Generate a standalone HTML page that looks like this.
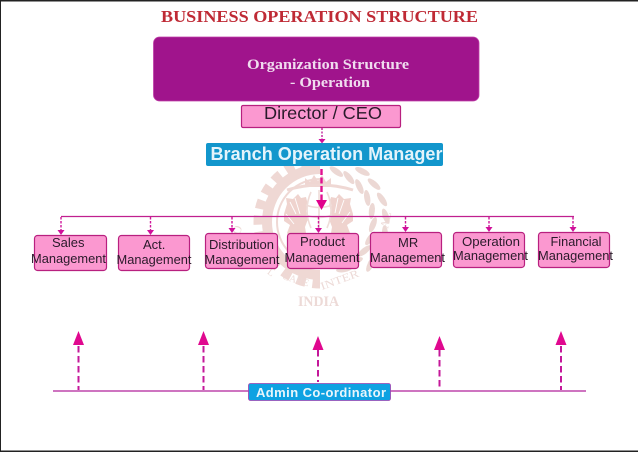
<!DOCTYPE html>
<html><head><meta charset="utf-8"><style>
html,body{margin:0;padding:0;background:#fff}
svg{display:block}
.s{font-family:"Liberation Sans",sans-serif}
.f{font-family:"Liberation Serif",serif;font-weight:bold}
.b{fill:#fb98d0;stroke:#b8207f;stroke-width:1.2}
.l{font-family:"Liberation Sans",sans-serif;font-size:13px;fill:#2a1a2a}
.wt{font-family:"Liberation Serif",serif;fill:#eddad7}
</style></head><body>
<svg width="638" height="452" viewBox="0 0 638 452" xmlns="http://www.w3.org/2000/svg">
<defs>
<clipPath id="lc"><path d="M240 150H320V300H240z"/></clipPath>
</defs>
<rect width="638" height="452" fill="#fff"/>
<rect x="0" y="0" width="638" height="1.5" fill="#222"/>
<rect x="0" y="0" width="1" height="452" fill="#222"/>
<rect x="0" y="450.5" width="638" height="1.5" fill="#222"/>

<!-- watermark -->
<g clip-path="url(#lc)" fill="none" stroke="#efd8d4">
<circle cx="320" cy="222" r="62" stroke-width="9" stroke-dasharray="9 7"/>
<circle cx="320" cy="222" r="53" stroke-width="10"/>
<circle cx="320" cy="222" r="43" stroke-width="2"/>
</g>
<g transform="translate(320 222)" fill="#ecd8d4">
<ellipse rx="3" ry="8" transform="rotate(-72) translate(53 0) rotate(18)"/>
<ellipse rx="3" ry="8" transform="rotate(-57) translate(53 0) rotate(18)"/>
<ellipse rx="3" ry="8" transform="rotate(-42) translate(53 0) rotate(18)"/>
<ellipse rx="3" ry="8" transform="rotate(-27) translate(53 0) rotate(18)"/>
<ellipse rx="3" ry="8" transform="rotate(-12) translate(53 0) rotate(18)"/>
<ellipse rx="3" ry="8" transform="rotate(3) translate(53 0) rotate(18)"/>
<ellipse rx="3" ry="8" transform="rotate(18) translate(53 0) rotate(18)"/>
<ellipse rx="3" ry="8" transform="rotate(33) translate(53 0) rotate(18)"/>
<ellipse rx="3" ry="8" transform="rotate(48) translate(53 0) rotate(18)"/>
<ellipse rx="3" ry="8" transform="rotate(63) translate(53 0) rotate(18)"/>
<ellipse rx="3" ry="8" transform="rotate(-65) translate(66 0) rotate(-14)"/>
<ellipse rx="3" ry="8" transform="rotate(-50) translate(66 0) rotate(-14)"/>
<ellipse rx="3" ry="8" transform="rotate(-35) translate(66 0) rotate(-14)"/>
<ellipse rx="3" ry="8" transform="rotate(-20) translate(66 0) rotate(-14)"/>
<ellipse rx="3" ry="8" transform="rotate(-5) translate(66 0) rotate(-14)"/>
<ellipse rx="3" ry="8" transform="rotate(10) translate(66 0) rotate(-14)"/>
<ellipse rx="3" ry="8" transform="rotate(25) translate(66 0) rotate(-14)"/>
<ellipse rx="3" ry="8" transform="rotate(40) translate(66 0) rotate(-14)"/>
</g>
<path d="M305 178l5 4 4-7 4 6 4-6 4 7 5-4v9h-26z" fill="#efd6d2"/>
<path d="M287 190q33-10 66 0" fill="none" stroke="#efd8d4" stroke-width="3"/>
<path d="M284 214l3-10-1-6 7 1 5-5 3 4 5-1 2 8-2 6 2 8-3 8 2 12-15 4-5-10 3-8-6-4z" fill="#efd3ce"/>
<path d="M353 214l-3-10 1-6-7 1-5-5-3 4-5-1-2 8 2 6-2 8 3 8-2 12 15 4 5-10-3-8 6-4z" fill="#efd3ce"/>
<g fill="none" stroke="#fff" stroke-width="0.9">
<path d="M290 202l6 12M295 198l5 16M286 214l8 10M338 198l-3 15M344 200l-5 14M350 212l-8 11"/>
</g>
<path d="M319 190v40M306 205q13 5 26 0M306 215q13 5 26 0M311 192q-8 18 0 36M327 192q8 18 0 36" fill="none" stroke="#efdcd8" stroke-width="1.6"/>
<path d="M302 240q18 18 36 0l2 18q-20 18-40 0z" fill="#f2dfdb"/>
<text class="wt" x="240" y="228" font-size="12" transform="rotate(-70 245 232)">O</text>
<text class="wt" x="268" y="275" font-size="10" transform="rotate(35 270 272)">L</text>
<text class="wt" x="282" y="279" font-size="10" transform="rotate(16 282 279)" textLength="27" lengthAdjust="spacingAndGlyphs">CARE</text>
<text class="wt" x="322" y="290" font-size="11" transform="rotate(-20 322 290)" textLength="40" lengthAdjust="spacingAndGlyphs">INTER</text>
<text class="wt" x="372" y="268" font-size="11" transform="rotate(-38 372 268)">N</text>
<text class="wt" x="388" y="229" font-size="12" letter-spacing="0.5" transform="rotate(-78 388 229)">AL</text>
<text class="wt" x="298" y="306" font-size="14.500" font-weight="bold" textLength="41" lengthAdjust="spacingAndGlyphs">INDIA</text>

<!-- title -->
<text class="f" x="161" y="22" font-size="17" fill="#bf2a35" textLength="317" lengthAdjust="spacingAndGlyphs">BUSINESS OPERATION STRUCTURE</text>

<!-- purple -->
<rect x="153.500" y="37" width="325.500" height="64" rx="6" fill="#a0148c" stroke="#c040a8" stroke-width="0.800"/>
<text class="f" x="247" y="69" font-size="15" fill="#f0dcef" textLength="162" lengthAdjust="spacingAndGlyphs">Organization Structure</text>
<text class="f" x="290" y="87" font-size="15" fill="#f0dcef" textLength="80" lengthAdjust="spacingAndGlyphs">- Operation</text>

<!-- director -->
<rect x="241.500" y="105.500" width="159" height="22" rx="1.500" class="b"/>
<text class="s" x="264" y="119" font-size="17.500" fill="#2a1a2a" textLength="118" lengthAdjust="spacingAndGlyphs">Director / CEO</text>

<!-- arrow director to branch -->
<line x1="322" y1="128" x2="322" y2="140" stroke="#c0209a" stroke-width="1.400" stroke-dasharray="2 1.500"/>
<path d="M318.500 139h7l-3.500 4.500z" fill="#d0109a"/>

<!-- branch -->
<rect x="206" y="143" width="237" height="23" rx="2" fill="#1296cc"/>
<text class="s" x="210.500" y="160" font-size="18" font-weight="bold" fill="#e4f4fb" textLength="232" lengthAdjust="spacingAndGlyphs">Branch Operation Manager</text>

<!-- thick arrow -->
<line x1="321.500" y1="169" x2="321.500" y2="200" stroke="#e0108f" stroke-width="2.400" stroke-dasharray="6 2.500"/>
<path d="M316 200h11l-5.500 10z" fill="#e0008c"/>

<!-- h line -->
<line x1="61" y1="216.500" x2="574" y2="216.500" stroke="#c0208f" stroke-width="1.200"/>

<g stroke="#d0189a" stroke-width="1.400" stroke-dasharray="2.500 1.500">
<line x1="61" y1="217" x2="61" y2="230"/>
<line x1="150.500" y1="217" x2="150.500" y2="230"/>
<line x1="232" y1="217" x2="232" y2="228"/>
<line x1="318.500" y1="217" x2="318.500" y2="228"/>
<line x1="405.500" y1="217" x2="405.500" y2="227"/>
<line x1="489" y1="217" x2="489" y2="227"/>
<line x1="573" y1="217" x2="573" y2="227"/>
</g>
<g fill="#d0109a">
<path d="M57.500 230h7l-3.500 5z"/>
<path d="M147 230h7l-3.500 5z"/>
<path d="M228.500 228h7l-3.500 5z"/>
<path d="M315 228h7l-3.500 5z"/>
<path d="M402 227h7l-3.500 5z"/>
<path d="M485.500 227h7l-3.500 5z"/>
<path d="M569.500 227h7l-3.500 5z"/>
</g>

<!-- boxes -->
<rect x="34.500" y="235.500" width="72" height="35" rx="3" class="b"/>
<rect x="118.500" y="235.500" width="71" height="35" rx="3" class="b"/>
<rect x="205.500" y="233.500" width="72" height="35" rx="3" class="b"/>
<rect x="287.500" y="233.500" width="71" height="35" rx="3" class="b"/>
<rect x="370.500" y="232.500" width="71" height="35" rx="3" class="b"/>
<rect x="453.500" y="232.500" width="71" height="35" rx="3" class="b"/>
<rect x="538.500" y="232.500" width="71" height="35" rx="3" class="b"/>

<text class="l" x="52" y="247">Sales</text>
<text class="l" x="31" y="263" textLength="75" lengthAdjust="spacingAndGlyphs">Management</text>
<text class="l" x="143" y="249">Act.</text>
<text class="l" x="116.500" y="264" textLength="75" lengthAdjust="spacingAndGlyphs">Management</text>
<text class="l" x="209" y="249" textLength="65" lengthAdjust="spacingAndGlyphs">Distribution</text>
<text class="l" x="204.500" y="264" textLength="75" lengthAdjust="spacingAndGlyphs">Management</text>
<text class="l" x="300" y="246" textLength="45" lengthAdjust="spacingAndGlyphs">Product</text>
<text class="l" x="284.500" y="262" textLength="75" lengthAdjust="spacingAndGlyphs">Management</text>
<text class="l" x="398" y="247">MR</text>
<text class="l" x="370" y="262" textLength="75" lengthAdjust="spacingAndGlyphs">Management</text>
<text class="l" x="462" y="246" textLength="58" lengthAdjust="spacingAndGlyphs">Operation</text>
<text class="l" x="453" y="260" textLength="75" lengthAdjust="spacingAndGlyphs">Management</text>
<text class="l" x="550.500" y="246" textLength="51" lengthAdjust="spacingAndGlyphs">Financial</text>
<text class="l" x="538" y="260" textLength="75" lengthAdjust="spacingAndGlyphs">Management</text>

<!-- bottom line -->
<line x1="53" y1="391" x2="586" y2="391" stroke="#b0209a" stroke-width="1.200"/>
<g stroke="#c4189a" stroke-width="2" stroke-dasharray="6.500 3.500" fill="none">
<line x1="78.500" y1="346" x2="78.500" y2="390"/>
<line x1="203.500" y1="346" x2="203.500" y2="390"/>
<line x1="318" y1="350" x2="318" y2="382"/>
<line x1="439.500" y1="350" x2="439.500" y2="390"/>
<line x1="561" y1="346" x2="561" y2="390"/>
</g>
<g fill="#e0088f">
<path d="M78.500 331l5.500 14h-11z"/>
<path d="M203.500 331l5.500 14h-11z"/>
<path d="M318 336l5.500 14h-11z"/>
<path d="M439.500 336l5.500 14h-11z"/>
<path d="M561 331l5.500 14h-11z"/>
</g>

<!-- admin -->
<rect x="248.500" y="383.500" width="142" height="17" rx="2" fill="#0ea2e2" stroke="#a040b0" stroke-width="0.800"/>
<text class="s" x="256" y="397" font-size="13" font-weight="bold" fill="#eaf6fc" textLength="130" lengthAdjust="spacing">Admin Co-ordinator</text>
</svg>
</body></html>
